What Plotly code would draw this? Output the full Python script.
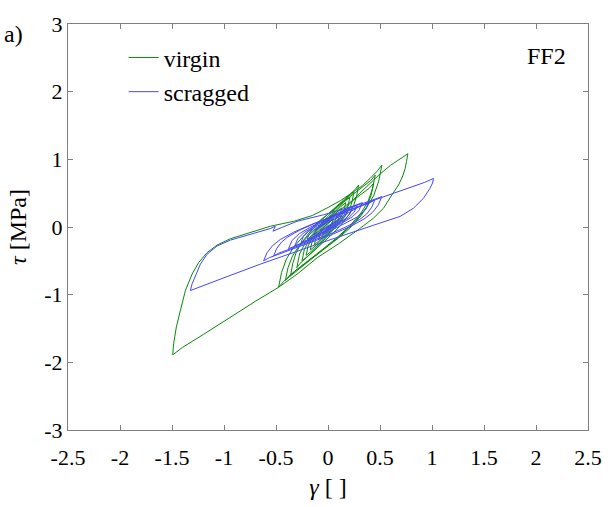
import plotly.graph_objects as go

# Shear strain (gamma) and shear stress (tau, MPa) histories for specimen FF2

# virgin specimen: first loading, large cycle, then decaying cycles
virgin_strain = [
    0.00, 0.10, 0.20, 0.30, 0.40, 0.49, 0.60, 0.70, 0.768,
    0.755, 0.742, 0.715, 0.678, 0.614, 0.534, 0.438, 0.30, 0.10, -0.10, -0.30, -0.475, -0.70, -0.95, -1.20, -1.40, -1.493,
    -1.484, -1.458, -1.419, -1.371, -1.307, -1.243, -1.163, -1.067, -0.939, -0.779, -0.555, -0.33, -0.15, -0.01, 0.12, 0.245, 0.33, 0.406, 0.47, 0.518,
    0.488, 0.439, 0.369, 0.250, 0.101, -0.058, -0.207, -0.336, -0.425, -0.475,
    -0.447, -0.401, -0.336, -0.224, -0.085, 0.064, 0.203, 0.324, 0.408, 0.454,
    0.428, 0.385, 0.324, 0.221, 0.091, -0.047, -0.177, -0.289, -0.367, -0.410,
    -0.385, -0.342, -0.283, -0.181, -0.054, 0.082, 0.209, 0.319, 0.396, 0.438,
    0.414, 0.374, 0.318, 0.223, 0.103, -0.025, -0.145, -0.248, -0.320, -0.360,
    -0.340, -0.308, -0.262, -0.183, -0.085, 0.019, 0.117, 0.202, 0.261, 0.294,
    0.276, 0.246, 0.205, 0.134, 0.045, -0.051, -0.140, -0.217, -0.270, -0.300,
    -0.273, -0.218, -0.135, -0.025, 0.085, 0.179, 0.250,
    0.225, 0.175, 0.100, 0.000, -0.100, -0.185, -0.250,
    -0.227, -0.181, -0.112, -0.020, 0.072, 0.150, 0.210,
    0.189, 0.147, 0.084, 0.000, -0.084, -0.155, -0.210,
    -0.191, -0.153, -0.096, -0.020, 0.056, 0.121, 0.170,
    0.153, 0.119, 0.068, 0.000, -0.068, -0.126, -0.170,
    -0.155, -0.125, -0.080, -0.020, 0.040, 0.091, 0.130,
    0.117, 0.091, 0.052, 0.000, -0.052, -0.096, -0.130,
    -0.119, -0.097, -0.064, -0.020, 0.024, 0.061, 0.090,
    0.081, 0.063, 0.036, 0.000, -0.036, -0.067, -0.090,
    -0.069, -0.020, 0.032, 0.050,
    0.035, 0.000, -0.037, -0.050,
    0.000,
]
virgin_stress = [
    0.00, 0.17, 0.33, 0.49, 0.64, 0.77, 0.91, 1.01, 1.083,
    0.97, 0.864, 0.74, 0.62, 0.474, 0.278, 0.132, -0.03, -0.25, -0.45, -0.70, -0.891, -1.10, -1.35, -1.59, -1.78, -1.89,
    -1.719, -1.476, -1.232, -0.939, -0.696, -0.525, -0.379, -0.267, -0.174, -0.096, 0.011, 0.084, 0.17, 0.28, 0.39, 0.52, 0.61, 0.72, 0.82, 0.913,
    0.678, 0.462, 0.282, 0.065, -0.151, -0.350, -0.530, -0.693, -0.801, -0.891,
    -0.675, -0.476, -0.311, -0.112, 0.087, 0.270, 0.435, 0.585, 0.684, 0.767,
    0.565, 0.378, 0.222, 0.035, -0.152, -0.323, -0.479, -0.619, -0.712, -0.790,
    -0.604, -0.431, -0.288, -0.116, 0.056, 0.214, 0.357, 0.486, 0.572, 0.644,
    0.467, 0.303, 0.167, 0.003, -0.161, -0.311, -0.447, -0.570, -0.652, -0.720,
    -0.546, -0.385, -0.251, -0.090, 0.071, 0.218, 0.352, 0.473, 0.553, 0.620,
    0.461, 0.315, 0.193, 0.047, -0.100, -0.234, -0.356, -0.466, -0.539, -0.600,
    -0.398, -0.230, -0.074, 0.117, 0.296, 0.430, 0.520,
    0.336, 0.183, 0.041, -0.133, -0.296, -0.418, -0.500,
    -0.331, -0.190, -0.058, 0.102, 0.252, 0.365, 0.440,
    0.285, 0.156, 0.036, -0.110, -0.248, -0.351, -0.420,
    -0.280, -0.163, -0.053, 0.079, 0.204, 0.298, 0.360,
    0.234, 0.129, 0.031, -0.088, -0.200, -0.284, -0.340,
    -0.228, -0.135, -0.049, 0.057, 0.156, 0.230, 0.280,
    0.183, 0.102, 0.026, -0.066, -0.152, -0.217, -0.260,
    -0.177, -0.108, -0.044, 0.034, 0.108, 0.163, 0.200,
    0.132, 0.075, 0.021, -0.043, -0.104, -0.150, -0.180,
    -0.081, 0.012, 0.096, 0.120,
    0.047, -0.021, -0.082, -0.100,
    0.000,
]

# scragged specimen: first loading, large cycle, then decaying cycles
scragged_strain = [
    0.00, 0.15, 0.30, 0.45, 0.63, 0.822, 0.93, 1.014,
    1.005, 0.98, 0.918, 0.822, 0.694, 0.502, 0.31, 0.00, -0.30, -0.651, -1.00, -1.323,
    -1.307, -1.275, -1.227, -1.163, -1.067, -0.939, -0.779, -0.651, -0.555, -0.507, -0.529, -0.45, -0.298, -0.043, 0.182, 0.342, 0.45, 0.518,
    0.484, 0.427, 0.347, 0.211, 0.040, -0.141, -0.312, -0.460, -0.562, -0.619,
    -0.587, -0.533, -0.459, -0.330, -0.170, 0.001, 0.161, 0.300, 0.397, 0.450,
    0.421, 0.372, 0.304, 0.187, 0.041, -0.114, -0.260, -0.387, -0.474, -0.523,
    -0.495, -0.449, -0.385, -0.274, -0.135, 0.012, 0.151, 0.271, 0.354, 0.400,
    0.361, 0.283, 0.166, 0.010, -0.146, -0.279, -0.380,
    -0.345, -0.274, -0.167, -0.025, 0.117, 0.238, 0.330,
    0.298, 0.233, 0.135, 0.005, -0.125, -0.236, -0.320,
    -0.290, -0.230, -0.140, -0.020, 0.100, 0.202, 0.280,
    0.253, 0.199, 0.118, 0.010, -0.098, -0.190, -0.260,
    -0.236, -0.187, -0.113, -0.015, 0.083, 0.166, 0.230,
    0.209, 0.166, 0.101, 0.015, -0.071, -0.144, -0.200,
    -0.181, -0.143, -0.086, -0.010, 0.066, 0.131, 0.180,
    0.164, 0.132, 0.084, 0.020, -0.044, -0.098, -0.140,
    -0.100, -0.005, 0.095, 0.130,
    0.099, 0.025, -0.053, -0.080,
    0.050,
]
scragged_stress = [
    0.00, 0.17, 0.30, 0.40, 0.498, 0.596, 0.66, 0.717,
    0.65, 0.57, 0.425, 0.278, 0.157, 0.059, -0.037, -0.20, -0.36, -0.549, -0.75, -0.939,
    -0.841, -0.72, -0.549, -0.403, -0.281, -0.194, -0.121, -0.072, -0.023, 0.011, -0.062, -0.01, 0.084, 0.181, 0.278, 0.352, 0.41, 0.45,
    0.327, 0.213, 0.118, 0.004, -0.110, -0.215, -0.310, -0.395, -0.452, -0.500,
    -0.383, -0.275, -0.185, -0.077, 0.031, 0.130, 0.220, 0.301, 0.355, 0.400,
    0.292, 0.193, 0.110, 0.011, -0.089, -0.180, -0.262, -0.337, -0.387, -0.428,
    -0.323, -0.226, -0.145, -0.048, 0.049, 0.138, 0.218, 0.291, 0.340, 0.380,
    0.254, 0.149, 0.051, -0.068, -0.180, -0.264, -0.320,
    -0.198, -0.096, 0.000, 0.115, 0.224, 0.306, 0.360,
    0.245, 0.149, 0.059, -0.050, -0.152, -0.229, -0.280,
    -0.172, -0.082, 0.002, 0.104, 0.200, 0.272, 0.320,
    0.221, 0.139, 0.062, -0.032, -0.120, -0.186, -0.230,
    -0.140, -0.065, 0.005, 0.090, 0.170, 0.230, 0.270,
    0.189, 0.122, 0.059, -0.018, -0.090, -0.144, -0.180,
    -0.108, -0.048, 0.008, 0.076, 0.140, 0.188, 0.220,
    0.159, 0.108, 0.060, 0.002, -0.052, -0.093, -0.120,
    -0.024, 0.066, 0.147, 0.170,
    0.094, 0.023, -0.042, -0.060,
    0.060,
]

x_ticks = [-2.5, -2, -1.5, -1, -0.5, 0, 0.5, 1, 1.5, 2, 2.5]
x_tick_text = ["-2.5", "-2", "-1.5", "-1", "-0.5", "0", "0.5", "1", "1.5", "2", "2.5"]
y_ticks = [-3, -2, -1, 0, 1, 2, 3]
y_tick_text = ["-3", "-2", "-1", "0", "1", "2", "3"]

SERIF = "Liberation Serif"
AXIS_GREY = "#808080"

fig = go.Figure()
fig.add_trace(go.Scatter(
    x=virgin_strain, y=virgin_stress, mode="lines", name="virgin",
    line=dict(color="#0a8a0a", width=1),
))
fig.add_trace(go.Scatter(
    x=scragged_strain, y=scragged_stress, mode="lines", name="scragged",
    line=dict(color="#4646ff", width=1),
))

axis_common = dict(
    showline=True, linecolor=AXIS_GREY, linewidth=1, mirror="ticks",
    ticks="inside", ticklen=5, tickcolor=AXIS_GREY, tickwidth=1,
    showgrid=False, zeroline=False,
)

fig.update_xaxes(
    range=[-2.5, 2.5], tickvals=x_ticks, ticktext=x_tick_text,
    tickfont=dict(family=SERIF, size=22, color="black"),
    ticklabelstandoff=8,
    title=dict(text="<i>γ</i> [ ]", font=dict(family=SERIF, size=24, color="black"), standoff=8),
    **axis_common,
)
fig.update_yaxes(
    range=[-3, 3], tickvals=y_ticks, ticktext=y_tick_text,
    tickfont=dict(family=SERIF, size=22, color="black"),
    ticklabelstandoff=0,
    title=dict(text="<i>τ</i> [MPa]", font=dict(family=SERIF, size=24, color="black"), standoff=10),
    **axis_common,
)

fig.update_layout(
    width=614, height=507,
    margin=dict(l=68, r=26, t=20, b=76),
    paper_bgcolor="white", plot_bgcolor="white",
    font=dict(family=SERIF, size=22, color="black"),
    showlegend=True,
    legend=dict(
        x=0.107, y=0.972, xanchor="left", yanchor="top",
        bgcolor="rgba(0,0,0,0)", borderwidth=0,
        font=dict(family=SERIF, size=24, color="black"),
    ),
    annotations=[
        dict(text="FF2", xref="paper", yref="paper", x=0.92, y=0.92,
             xanchor="center", yanchor="middle", showarrow=False,
             font=dict(family=SERIF, size=24, color="black")),
        dict(text="a)", xref="paper", yref="paper", x=-0.105, y=0.975,
             xanchor="center", yanchor="middle", showarrow=False,
             font=dict(family=SERIF, size=24, color="black")),
    ],
)

fig.write_html("out.html")
